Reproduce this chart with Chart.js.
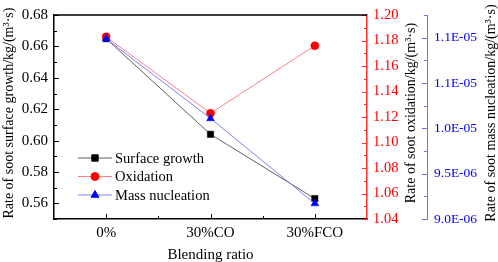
<!DOCTYPE html>
<html>
<head>
<meta charset="utf-8">
<script src="https://cdn.jsdelivr.net/npm/chart.js@4/dist/chart.umd.min.js"></script>
<style>
  html, body { margin: 0; padding: 0; background: #fff; }
  #wrap { width: 498px; height: 262px; }
</style>
</head>
<body>
<div id="wrap"><canvas id="chart" width="498" height="262"></canvas></div>
<script>
const categories = ['0%', '30%CO', '30%FCO'];
const surfaceGrowth = [0.665, 0.604, 0.563];
const oxidation = [1.183, 1.123, 1.176];
const massNucleation = [1.099e-5, 1.011e-5, 9.17e-6];

const seriesLabels = ['Surface growth', 'Oxidation', 'Mass nucleation'];
const axisTitles = {
  x: 'Blending ratio',
  y: 'Rate of soot surface growth/kg/(m\u00b3\u00b7s)',
  yOx: 'Rate of soot oxidation/kg/(m\u00b3\u00b7s)',
  yNuc: 'Rate of soot mass nucleation/kg/(m\u00b3\u00b7s)'
};

const serif = 'Liberation Serif';

// which tick values carry a label (the rest are minor ticks)
const isMajor = {
  y: v => Math.round(v * 100) % 2 === 0,
  yOx: v => Math.round(v * 100) % 2 === 0,
  yNuc: v => Math.round(v / 2.5e-7) % 2 === 0
};

function sci(v) {
  let e = Math.floor(Math.log10(v) + 1e-9);
  let m = Math.round(v / Math.pow(10, e) * 10 + 1e-6) / 10;
  if (m >= 10) { m /= 10; e += 1; }
  return m.toFixed(1) + 'E' + (e < 0 ? '-' : '+') + String(Math.abs(e)).padStart(2, '0');
}

// short inward ticks, long on labelled values
const inwardTicks = {
  id: 'inwardTicks',
  afterDraw(chart) {
    const ctx = chart.ctx;
    const area = chart.chartArea;
    ctx.save();
    ctx.lineWidth = 1;

    const yAxes = [['y', 1, '#000'], ['yOx', -1, '#ff3030'], ['yNuc', -1, '#7070ff']];
    yAxes.forEach(([id, dir, color]) => {
      const s = chart.scales[id];
      const bx = dir > 0 ? s.right : s.left;
      ctx.strokeStyle = color;
      s.ticks.forEach(t => {
        const len = isMajor[id](t.value) ? 5 : 3;
        const py = Math.round(s.getPixelForValue(t.value)) + 0.5;
        ctx.beginPath();
        ctx.moveTo(bx, py);
        ctx.lineTo(bx + dir * len, py);
        ctx.stroke();
      });
    });

    const x = chart.scales.x;
    ctx.strokeStyle = '#000';
    for (let i = 0; i < categories.length; i++) {
      [[i, 5], [i + 0.5, 3]].forEach(([v, len]) => {
        if (v > categories.length - 1) return;
        const px = Math.round(x.getPixelForValue(v)) + 0.5;
        ctx.beginPath();
        ctx.moveTo(px, area.bottom);
        ctx.lineTo(px, area.bottom - len);
        ctx.stroke();
      });
    }

    // top frame line
    ctx.lineWidth = 1.5;
    ctx.beginPath();
    ctx.moveTo(area.left, area.top);
    ctx.lineTo(area.right, area.top);
    ctx.stroke();
    ctx.restore();
  }
};

const axisTitlePlugin = {
  id: 'axisTitlePlugin',
  afterDraw(chart) {
    const ctx = chart.ctx;
    const area = chart.chartArea;
    const cy = (area.top + area.bottom) / 2 - 4;
    ctx.save();
    ctx.fillStyle = '#000';
    ctx.font = '14px "' + serif + '"';
    ctx.textAlign = 'center';
    ctx.textBaseline = 'middle';
    const vert = [
      ['y', chart.scales.y.left + 9],
      ['yOx', chart.scales.yOx.left + 44],
      ['yNuc', chart.scales.yNuc.right - 7]
    ];
    vert.forEach(([id, tx]) => {
      ctx.save();
      ctx.translate(tx, cy);
      ctx.rotate(-Math.PI / 2);
      ctx.fillText(axisTitles[id], 0, 0);
      ctx.restore();
    });
    ctx.font = '15px "' + serif + '"';
    ctx.fillText(axisTitles.x, (area.left + area.right) / 2, chart.scales.x.bottom - 7);
    ctx.restore();
  }
};

const insideLegend = {
  id: 'insideLegend',
  afterDraw(chart) {
    const ctx = chart.ctx;
    const area = chart.chartArea;
    ctx.save();
    ctx.font = '14.5px "' + serif + '"';
    ctx.textBaseline = 'middle';
    chart.data.datasets.forEach((ds, i) => {
      const y = area.bottom - 61 + i * 18.5;
      const x0 = area.left + 24;
      ctx.strokeStyle = ds.borderColor;
      ctx.lineWidth = 1;
      ctx.beginPath();
      ctx.moveTo(x0, y);
      ctx.lineTo(x0 + 34, y);
      ctx.stroke();
      ctx.fillStyle = ds.pointBackgroundColor;
      ctx.strokeStyle = ds.pointBorderColor;
      Chart.helpers.drawPoint(ctx, {
        pointStyle: ds.pointStyle, radius: ds.pointRadius,
        rotation: 0, borderWidth: ds.pointBorderWidth
      }, x0 + 17, y);
      ctx.fillStyle = '#000';
      ctx.fillText(ds.label, x0 + 37, y + 1);
    });
    ctx.restore();
  }
};

const tickFont = { family: serif, size: 15 };

new Chart(document.getElementById('chart'), {
  type: 'line',
  data: {
    labels: categories,
    datasets: [{
      label: seriesLabels[0],
      data: surfaceGrowth,
      yAxisID: 'y',
      borderColor: '#606060',
      borderWidth: 1,
      pointStyle: 'rect',
      pointRadius: 4.5,
      pointBackgroundColor: '#000',
      pointBorderColor: '#000',
      pointBorderWidth: 0.5,
      order: 3
    }, {
      label: seriesLabels[1],
      data: oxidation,
      yAxisID: 'yOx',
      borderColor: '#ff8080',
      borderWidth: 1,
      pointStyle: 'circle',
      pointRadius: 4,
      pointBackgroundColor: '#ff0000',
      pointBorderColor: '#ff0000',
      pointBorderWidth: 0.5,
      order: 2
    }, {
      label: seriesLabels[2],
      data: massNucleation,
      yAxisID: 'yNuc',
      borderColor: '#8080ff',
      borderWidth: 1,
      pointStyle: 'triangle',
      pointRadius: 4.5,
      pointBackgroundColor: '#0000ff',
      pointBorderColor: '#0000ff',
      pointBorderWidth: 0.5,
      order: 1
    }]
  },
  options: {
    responsive: false,
    animation: false,
    layout: { padding: { top: 10, left: 0, right: 0, bottom: 0 } },
    plugins: { legend: { display: false }, tooltip: { enabled: false } },
    scales: {
      x: {
        type: 'category',
        offset: true,
        grid: { display: false, drawTicks: false },
        border: { display: true, color: '#000', width: 1.5 },
        ticks: { color: '#000', font: tickFont, padding: 5, maxRotation: 0, autoSkip: false },
        afterFit(s) { s.height = 43; }
      },
      y: {
        position: 'left',
        min: 0.55,
        max: 0.68,
        grid: { display: false, drawTicks: false },
        border: { display: true, color: '#000', width: 1.5 },
        ticks: {
          stepSize: 0.01, autoSkip: false, color: '#000', font: tickFont, padding: 6,
          callback: v => isMajor.y(v) ? v.toFixed(2) : ''
        },
        afterFit(s) { s.width = 54; }
      },
      yOx: {
        position: 'right',
        weight: 0,
        min: 1.04,
        max: 1.20,
        grid: { display: false, drawTicks: false },
        border: { display: true, color: '#ff3030', width: 1.5 },
        ticks: {
          stepSize: 0.01, autoSkip: false, color: '#ff0000',
          font: { family: serif, size: 14.5 }, padding: 6,
          callback: v => isMajor.yOx(v) ? v.toFixed(2) : ''
        },
        afterFit(s) { s.width = 60; }
      },
      yNuc: {
        position: 'right',
        weight: 1,
        min: 9e-6,
        max: 1.125e-5,
        grid: { display: false, drawTicks: false },
        border: { display: true, color: '#7070ff', width: 1 },
        ticks: {
          stepSize: 2.5e-7, autoSkip: false, color: '#0000ff',
          font: { family: serif, size: 13.5 }, padding: 7,
          callback: v => isMajor.yNuc(v) ? sci(v) : ''
        },
        afterFit(s) { s.width = 71; }
      }
    }
  },
  plugins: [inwardTicks, axisTitlePlugin, insideLegend]
});
</script>
</body>
</html>
